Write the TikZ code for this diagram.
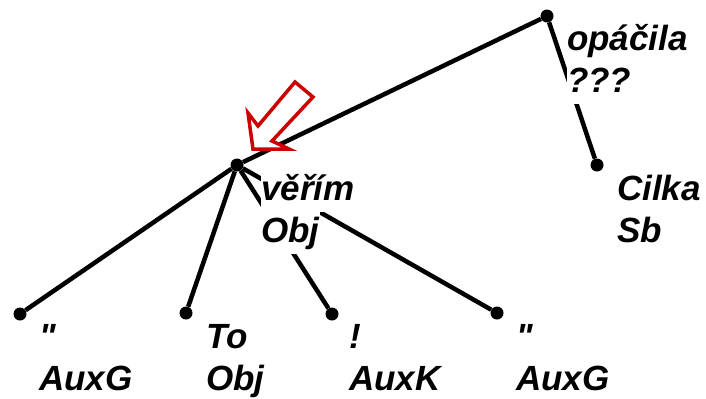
\documentclass[tikz,border=0pt]{standalone}
\usepackage{fontspec}
\setmainfont{Liberation Sans}[Ligatures=TeXOff]
\usetikzlibrary{positioning, calc}

\definecolor{pointred}{RGB}{204,0,0}
\newcommand{\wline}[1]{{\setlength{\fboxsep}{0pt}\colorbox{white}{\rule[-12bp]{0pt}{42bp}#1}}}

\begin{document}
\begin{tikzpicture}[
        x=1bp, y=-1bp,
        dot/.style={circle, fill=black, inner sep=0pt, minimum size=13bp},
        edge/.style={line width=4.5bp, draw=black},
        lbl/.style={anchor=north west, inner sep=0pt, align=left, font=\fontsize{35bp}{42bp}\selectfont\bfseries\itshape},
        pointer/.style={draw=pointred, line width=3.5bp, fill=white, line join=miter}
    ]

        \useasboundingbox (0,0) rectangle (706,398);

        % ----------------------------------------------------
        % TREE NODES
        % ----------------------------------------------------
        \node[dot] (root) at (547, 16) {};
        \node[dot] (verim) at (237, 165) {};
        \node[dot] (cilka) at (597, 165) {};
        \node[dot] (auxgl) at (20, 314) {};
        \node[dot] (to) at (186, 313) {};
        \node[dot] (auxk) at (332, 314) {};
        \node[dot] (auxgr) at (497, 313) {};

        % ----------------------------------------------------
        % EDGES
        % ----------------------------------------------------
        \draw[edge] (root) -- (verim);
        \draw[edge] (root) -- (cilka);
        \draw[edge] (verim) -- (auxgl);
        \draw[edge] (verim) -- (to);
        \draw[edge] (verim) -- (auxk);
        \draw[edge] (verim) -- (auxgr);

        % ----------------------------------------------------
        % LABELS (word / function)
        % ----------------------------------------------------
        \node[lbl] (rootlbl) at ([shift={(20,4)}]root.center) {\wline{opáčila}\\\wline{???}};
        \node[lbl] (verimlbl) at ([shift={(24,5)}]verim.center) {\wline{věřím}\\\wline{Obj}};
        \node[lbl] (cilkalbl) at ([shift={(20,5)}]cilka.center) {\wline{Cilka}\\\wline{Sb}};
        \node[lbl] (auxgllbl) at ([shift={(19,4)}]auxgl.center) {\wline{"}\\\wline{AuxG}};
        \node[lbl] (tolbl) at ([shift={(20,5)}]to.center) {\wline{To}\\\wline{Obj}};
        \node[lbl] (auxklbl) at ([shift={(17,4)}]auxk.center) {\wline{!}\\\wline{AuxK}};
        \node[lbl] (auxgrlbl) at ([shift={(19,5)}]auxgr.center) {\wline{"}\\\wline{AuxG}};

        % ----------------------------------------------------
        % POINTER
        % ----------------------------------------------------
        \draw[pointer] (253,149) -- (289,149) -- (272,141) -- (313,97) -- (295,82) -- (258,126) -- (248,113) -- cycle;

    \end{tikzpicture}
\end{document}
